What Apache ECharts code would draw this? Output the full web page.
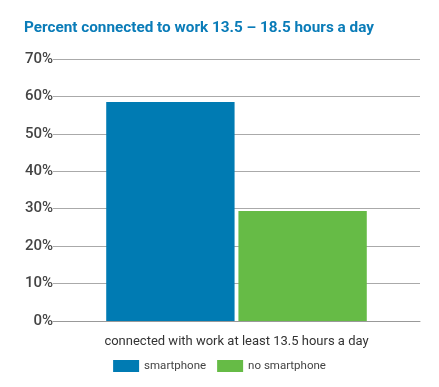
<!DOCTYPE html>
<html><head><meta charset="utf-8">
<script src="https://cdn.jsdelivr.net/npm/echarts@6/dist/echarts.min.js"></script>
<style>html,body{margin:0;padding:0;background:#fff}#c{width:439px;height:387px}</style>
</head><body><div id="c"></div>
<script>
const categories = ['connected with work at least 13.5 hours a day'];
const smartphone = [58.5];
const noSmartphone = [29.4];
const yTicks = [0, 10, 20, 30, 40, 50, 60, 70];

const chart = echarts.init(document.getElementById('c'));
chart.setOption({
  animation: false,
  title: {
    text: 'Percent connected to work 13.5 – 18.5 hours a day',
    left: 19, top: 16,
    textStyle: {color: '#0a7cb8', fontSize: 15.3, fontWeight: 'bold', fontFamily: 'Roboto'}
  },
  legend: {
    bottom: 10, left: 'center',
    itemWidth: 26, itemHeight: 12, itemGap: 11,
    icon: 'rect',
    textStyle: {color: '#444', fontSize: 11.5, fontFamily: 'Roboto'},
    data: ['smartphone', 'no smartphone']
  },
  grid: {left: 53, right: 19, top: 59, bottom: 66},
  xAxis: {
    type: 'category', data: categories,
    axisTick: {show: false},
    axisLine: {lineStyle: {color: '#999'}},
    axisLabel: {color: '#333', fontSize: 13, margin: 14, fontFamily: 'Roboto'}
  },
  yAxis: {
    type: 'value', min: yTicks[0], max: yTicks[yTicks.length - 1], interval: 10,
    axisLabel: {formatter: '{value}%', color: '#444', fontSize: 15, fontWeight: 500, margin: 0, fontFamily: 'Roboto'},
    splitLine: {lineStyle: {color: '#aaa', width: 1}},
    axisLine: {show: false}, axisTick: {show: false}
  },
  series: [
    {name: 'smartphone', type: 'bar', data: smartphone, itemStyle: {color: '#007bb3'}, barGap: '3%', barCategoryGap: '29%'},
    {name: 'no smartphone', type: 'bar', data: noSmartphone, itemStyle: {color: '#66bb46'}}
  ]
});
</script></body></html>
